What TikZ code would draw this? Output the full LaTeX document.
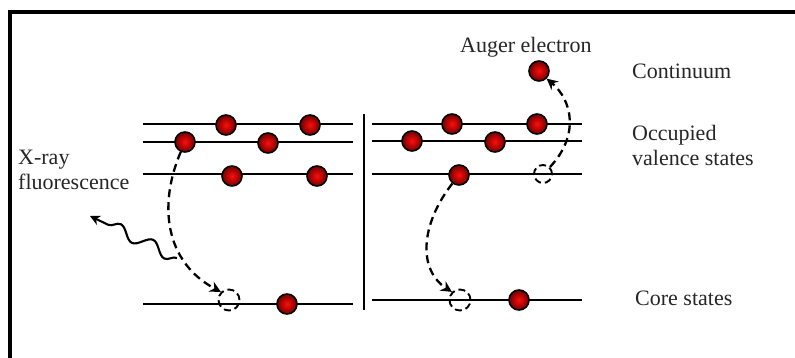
\documentclass[tikz,border=0pt]{standalone}
\usepackage{fontspec}
\setmainfont{Liberation Serif}
\usetikzlibrary{arrows.meta,decorations.pathmorphing}

\tikzset{
  level/.style={line width=2.7pt},
  frameline/.style={line width=3.2pt},
  electron/.style={circle, minimum size=20pt, inner sep=0pt, draw=black,
    line width=1.6pt, shading=radial, inner color=red!95!white,
    outer color=red!45!black},
  hole/.style={circle, minimum size=21pt, inner sep=0pt, draw=black,
    line width=1.9pt, dash pattern=on 7pt off 4pt},
  hop/.style={line width=2.3pt, dash pattern=on 8pt off 5pt,
    -{Stealth[length=11pt,width=11pt]}},
  photon/.style={line width=2.1pt, -{Stealth[length=10pt,width=10pt]},
    decorate, decoration={snake, amplitude=6pt, segment length=36pt,
    post length=6pt}},
  label/.style={inner sep=0pt, text=black!85, align=left,
    font=\fontsize{22}{25}\selectfont}
}

\begin{document}
\begin{tikzpicture}[x=1pt, y=-1pt]
\useasboundingbox (0,0) rectangle (795,358);

% outer frame
\draw[frameline] (10,358) -- (10,12) -- (795,12);

% separator between the two processes
\draw[level] (364,114) -- (364,310);

% energy levels, left process (fluorescence)
\draw[level] (143,124) -- (353,124);
\draw[level] (143,142) -- (353,142);
\draw[level] (143,174) -- (353,174);
\draw[level] (143,304) -- (353,304);

% energy levels, right process (Auger)
\draw[level] (372,124) -- (582,124);
\draw[level] (372,141) -- (582,141);
\draw[level] (372,174) -- (582,174);
\draw[level] (372,300) -- (582,300);

% electrons, left process
\node[electron] (la1) at (226,125) {};
\node[electron] (la2) at (310,125) {};
\node[electron] (lb1) at (185,142) {};
\node[electron] (lb2) at (268,143) {};
\node[electron] (lc1) at (232,176) {};
\node[electron] (lc2) at (317,176) {};
\node[electron] (lk1) at (287,304) {};

% electrons, right process
\node[electron] (ra1) at (452,124) {};
\node[electron] (ra2) at (537,124) {};
\node[electron] (rb1) at (412,141) {};
\node[electron] (rb2) at (495,142) {};
\node[electron] (rc1) at (459,175) {};
\node[electron] (rk1) at (519,300) {};
\node[electron] (rf)  at (539,71) {};

% holes
\node[hole] (lhk) at (229,300) {};
\node[hole] (rhk) at (460,300) {};
\node[hole, minimum size=18pt] (rhc) at (543,174) {};

% transitions
\draw[hop] (lb1) .. controls (158,205) and (165,262) .. (lhk.north west);
\draw[hop] (rc1) .. controls (420,225) and (418,270) .. (rhk.north west);
\draw[hop] (rhc.north east) .. controls (580,135) and (572,100) .. (rf.south east);

% emitted photon
\coordinate (ws) at (177,258);
\coordinate (we) at (90,216);
\draw[photon] (ws) -- (we);

% labels
\node[label, anchor=base west] (lauger) at (460,53) {Auger electron};
\node[label, anchor=base west] (lcont) at (632,79) {Continuum};
\node[label, anchor=north west] (lval) at (632,125) {Occupied\\valence states};
\node[label, anchor=base west] (lcore) at (635,305) {Core states};
\node[label, anchor=north west] (lxray) at (18,150) {X-ray\\fluorescence};
\end{tikzpicture}
\end{document}
